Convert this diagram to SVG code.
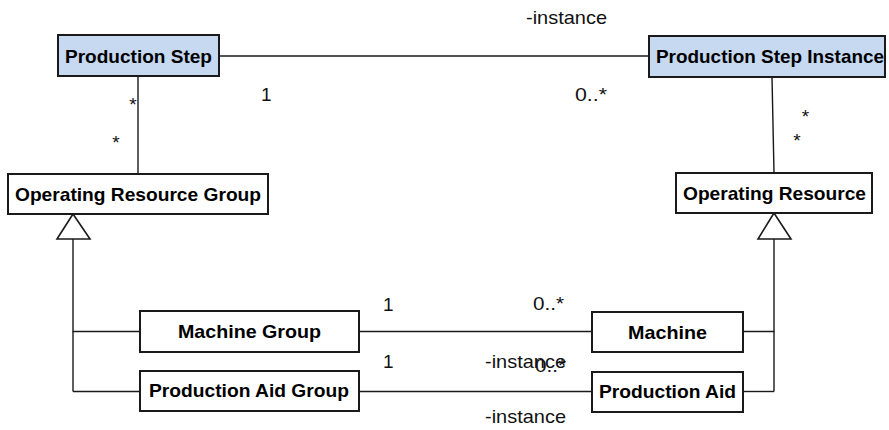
<svg xmlns="http://www.w3.org/2000/svg" width="889" height="430" viewBox="0 0 889 430">
  <style>
    .box { fill: #ffffff; stroke: #1a1a1a; stroke-width: 2; }
    .box.step { fill: #c6d9f1; }
    .name { font-family: "Liberation Sans", Arial, sans-serif; font-size: 19px; font-weight: bold; fill: #000; text-anchor: middle; }
    .lbl { font-family: "Liberation Sans", Arial, sans-serif; font-size: 19px; fill: #111; }
    .star { text-anchor: middle; }
    .conn line, .conn polyline { stroke: #1a1a1a; stroke-width: 1.4; fill: none; }
    .conn polygon { fill: #ffffff; stroke: #1a1a1a; stroke-width: 1.6; }
  </style>

  <rect width="889" height="430" fill="#ffffff"/>

  <!-- connectors: associations and generalizations -->
  <g id="connectors" class="conn">
    <line x1="219" y1="56" x2="649" y2="56"/>
    <line x1="138" y1="76" x2="138" y2="174"/>
    <line x1="772" y1="77" x2="774" y2="173"/>
    <line x1="359" y1="331.5" x2="592" y2="331.5"/>
    <line x1="359" y1="391.5" x2="592" y2="391.5"/>
    <!-- inheritance into Operating Resource Group -->
    <polyline points="140,331.5 73,331.5 73,239"/>
    <line x1="73" y1="391.5" x2="140" y2="391.5"/>
    <line x1="73" y1="331.5" x2="73" y2="391.5"/>
    <polygon points="73,214 57,239 90,239"/>
    <!-- inheritance into Operating Resource -->
    <polyline points="743,331.5 774,331.5 774,239"/>
    <line x1="774" y1="391.5" x2="743" y2="391.5"/>
    <line x1="774" y1="331.5" x2="774" y2="391.5"/>
    <polygon points="774,213 758,239 791,239"/>
  </g>

  <!-- association end labels -->
  <g id="labels" class="lbl">
    <text x="526" y="24" textLength="81" lengthAdjust="spacingAndGlyphs">-instance</text>
    <text x="261" y="101">1</text>
    <text x="575" y="101" textLength="32" lengthAdjust="spacingAndGlyphs">0..*</text>
    <text class="star" x="133" y="111">*</text>
    <text class="star" x="116" y="149">*</text>
    <text class="star" x="805.5" y="123">*</text>
    <text class="star" x="797" y="147">*</text>
    <text x="383" y="311">1</text>
    <text x="383" y="368">1</text>
    <text x="533" y="310" textLength="31" lengthAdjust="spacingAndGlyphs">0..*</text>
    <text x="485" y="368" textLength="81" lengthAdjust="spacingAndGlyphs">-instance</text>
    <text x="535" y="372" textLength="31" lengthAdjust="spacingAndGlyphs">0..*</text>
    <text x="485" y="423" textLength="81" lengthAdjust="spacingAndGlyphs">-instance</text>
  </g>

  <g id="production-step">
    <rect class="box step" x="58" y="35" width="161" height="41"/>
    <text class="name" x="138.5" y="63" textLength="147" lengthAdjust="spacingAndGlyphs">Production Step</text>
  </g>

  <g id="production-step-instance">
    <rect class="box step" x="649" y="36" width="236" height="41"/>
    <text class="name" x="770" y="63" textLength="228" lengthAdjust="spacingAndGlyphs">Production Step Instance</text>
  </g>

  <g id="operating-resource-group">
    <rect class="box" x="8" y="174" width="260" height="40"/>
    <text class="name" x="138" y="201" textLength="246" lengthAdjust="spacingAndGlyphs">Operating Resource Group</text>
  </g>

  <g id="operating-resource">
    <rect class="box" x="676" y="173" width="196" height="40"/>
    <text class="name" x="774.5" y="200" textLength="183" lengthAdjust="spacingAndGlyphs">Operating Resource</text>
  </g>

  <g id="machine-group">
    <rect class="box" x="140" y="311" width="219" height="41"/>
    <text class="name" x="249.5" y="338" textLength="143" lengthAdjust="spacingAndGlyphs">Machine Group</text>
  </g>

  <g id="production-aid-group">
    <rect class="box" x="140" y="371" width="219" height="40"/>
    <text class="name" x="249" y="397" textLength="200" lengthAdjust="spacingAndGlyphs">Production Aid Group</text>
  </g>

  <g id="machine">
    <rect class="box" x="592" y="312" width="151" height="40"/>
    <text class="name" x="667.5" y="339" textLength="79" lengthAdjust="spacingAndGlyphs">Machine</text>
  </g>

  <g id="production-aid">
    <rect class="box" x="592" y="372" width="151" height="40"/>
    <text class="name" x="667.5" y="398" textLength="137" lengthAdjust="spacingAndGlyphs">Production Aid</text>
  </g>
</svg>
